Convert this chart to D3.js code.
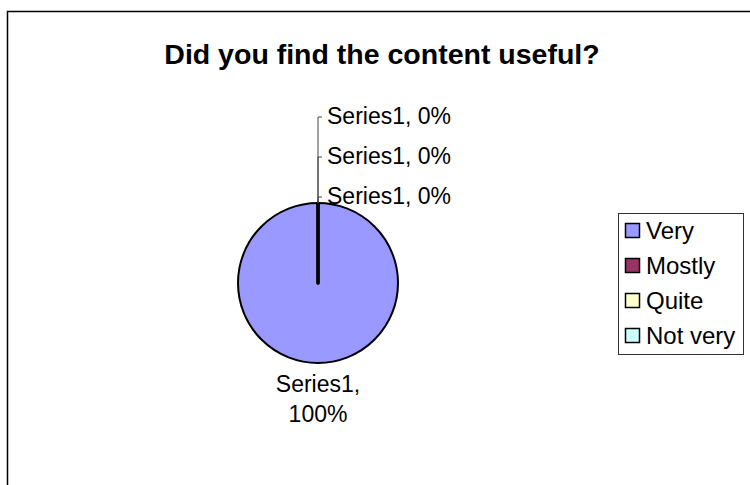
<!DOCTYPE html>
<html>
<head>
<meta charset="utf-8">
<script src="https://cdn.jsdelivr.net/npm/d3@7"></script>
<style>
  body { margin: 0; background: #fff; }
  text { font-family: "Liberation Sans", Arial, sans-serif; fill: #000; }
</style>
</head>
<body>
<div id="chart"></div>
<script>
const title = 'Did you find the content useful?';
const seriesName = 'Series1';
const categories = ['Very', 'Mostly', 'Quite', 'Not very'];
const values = [100, 0, 0, 0];
const colors = ['#9999FF', '#993366', '#FFFFCC', '#CCFFFF'];

const width = 750, height = 485;
const cx = 318, cy = 283, radius = 80;

const svg = d3.select('#chart')
  .append('svg')
    .attr('width', width)
    .attr('height', height);

// chart area border (runs off the right and bottom edges)
svg.append('rect')
  .attr('x', 7.5).attr('y', 11.5)
  .attr('width', width + 20).attr('height', height + 20)
  .attr('fill', '#fff')
  .attr('stroke', '#000')
  .attr('stroke-width', 1.5);

svg.append('text')
  .attr('x', 382).attr('y', 64)
  .attr('text-anchor', 'middle')
  .style('font-size', '28.5px')
  .style('font-weight', 'bold')
  .text(title);

const total = d3.sum(values);
const data = categories.map((c, i) => ({category: c, value: values[i], color: colors[i]}));
const pie = d3.pie().sort(null).value(d => d.value);
const arcs = pie(data);
const arc = d3.arc().innerRadius(0).outerRadius(radius);

const g = svg.append('g').attr('transform', `translate(${cx}, ${cy})`);

g.selectAll('path.slice')
  .data(arcs)
  .enter()
  .append('path')
    .attr('class', 'slice')
    .attr('d', arc)
    .attr('fill', d => d.data.color)
    .attr('stroke', '#000')
    .attr('stroke-width', d => d.data.value === 0 ? 3 : 2)
    .attr('stroke-linejoin', 'round');

const pct = v => `${Math.round(v / total * 100)}%`;

// labels for empty slices, stacked above the top of the pie
const empty = arcs.filter(d => d.data.value === 0);
empty.forEach((d, i) => {
  const a = d.startAngle;
  const x0 = radius * Math.sin(a), y0 = -radius * Math.cos(a);
  const base = y0 + 1 - i * 40;
  const mid = base - 7;
  g.append('path')
    .attr('d', `M${x0},${y0}V${mid}H${x0 + 4}`)
    .attr('fill', 'none')
    .attr('stroke', '#444')
    .attr('stroke-width', 1);
  g.append('text')
    .attr('x', x0 + 9).attr('y', base)
    .style('font-size', '23px')
    .text(`${seriesName}, ${pct(d.data.value)}`);
});

// label for the filled slice, outside the pie along its mid angle
arcs.filter(d => d.data.value > 0).forEach(d => {
  const a = (d.startAngle + d.endAngle) / 2;
  const r = radius + 29;
  const x = r * Math.sin(a), y = -r * Math.cos(a);
  const t = g.append('text')
    .attr('text-anchor', 'middle')
    .style('font-size', '23px');
  t.append('tspan').attr('x', x).attr('y', y).text(`${seriesName},`);
  t.append('tspan').attr('x', x).attr('y', y + 30).text(pct(d.data.value));
});

// legend
const legend = svg.append('g');
legend.append('rect')
  .attr('x', 618.5).attr('y', 213.5)
  .attr('width', 125).attr('height', 141)
  .attr('fill', '#fff')
  .attr('stroke', '#333')
  .attr('stroke-width', 1);

const row = legend.selectAll('g.row')
  .data(data)
  .enter()
  .append('g')
    .attr('class', 'row')
    .attr('transform', (d, i) => `translate(625, ${239 + i * 35})`);

row.append('rect')
  .attr('x', 0.5).attr('y', -15.5)
  .attr('width', 14).attr('height', 14)
  .attr('fill', d => d.color)
  .attr('stroke', '#000')
  .attr('stroke-width', 1.5);

row.append('text')
  .attr('x', 21).attr('y', 0)
  .style('font-size', '24px')
  .text(d => d.category);
</script>
</body>
</html>
